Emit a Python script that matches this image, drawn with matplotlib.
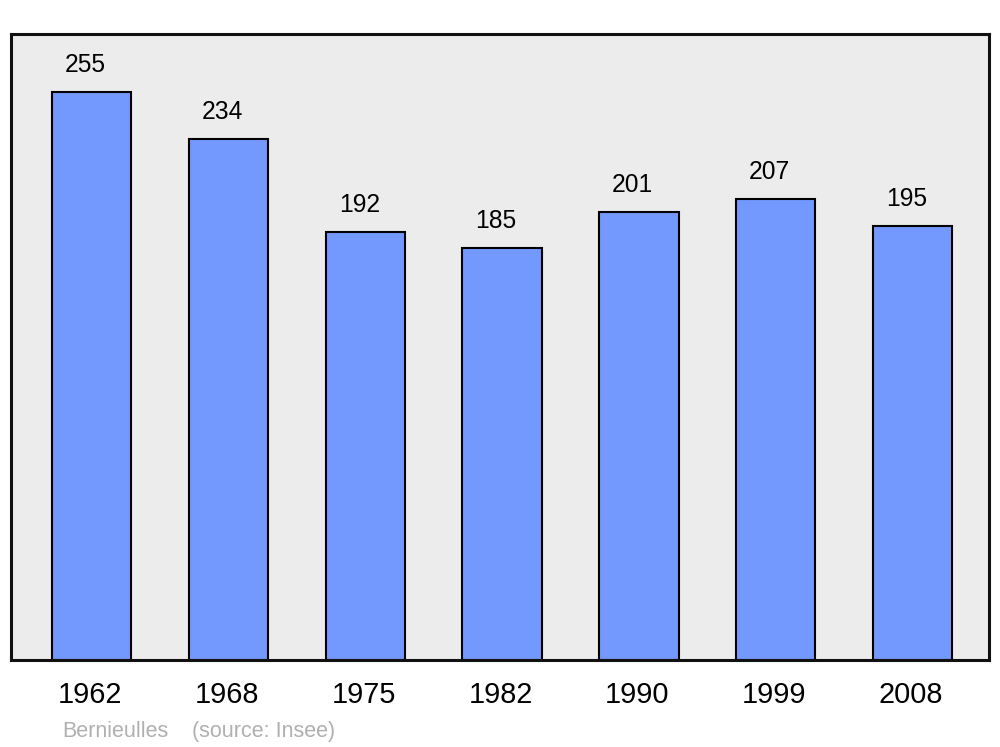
import matplotlib.pyplot as plt
import matplotlib.transforms as mtransforms

# Données de population
years = ['1962', '1968', '1975', '1982', '1990', '1999', '2008']
population = [255, 234, 192, 185, 201, 207, 195]

plt.rcParams['font.family'] = ['Liberation Sans', 'DejaVu Sans']

fig = plt.figure(figsize=(10, 7.47), dpi=100)
ax = fig.add_axes([0.011, 0.1165, 0.978, 0.838])
ax.set_facecolor('#ececec')

x = range(len(years))
bars = ax.bar(x, population, width=0.58, color='#7399ff', edgecolor='black',
              linewidth=1.5, zorder=2)

# Étiquettes au-dessus des barres
for xi, v in zip(x, population):
    ax.annotate(str(v), (xi, v), xytext=(-4.3, 19.3), textcoords='offset points',
                ha='center', va='center', fontsize=17.7)

ax.set_xlim(-0.59, len(years) - 1 + 0.56)
ax.set_ylim(0, 281)
ax.set_xticks(list(x))
ax.set_xticklabels(years, fontsize=20.8)
ax.tick_params(axis='x', length=0, pad=15)
shift = mtransforms.ScaledTranslation(-1.5 / 100, 0, fig.dpi_scale_trans)
for lbl in ax.get_xticklabels():
    lbl.set_transform(lbl.get_transform() + shift)
ax.set_yticks([])
for s in ax.spines.values():
    s.set_linewidth(2.2)
    s.set_color('#111111')

fig.text(0.062, 0.021, 'Bernieulles', color='#b0b0b0', fontsize=15.5, va='center')
fig.text(0.192, 0.021, '(source: Insee)', color='#b0b0b0', fontsize=15.5, va='center')

fig.savefig('out.png', dpi=100)
